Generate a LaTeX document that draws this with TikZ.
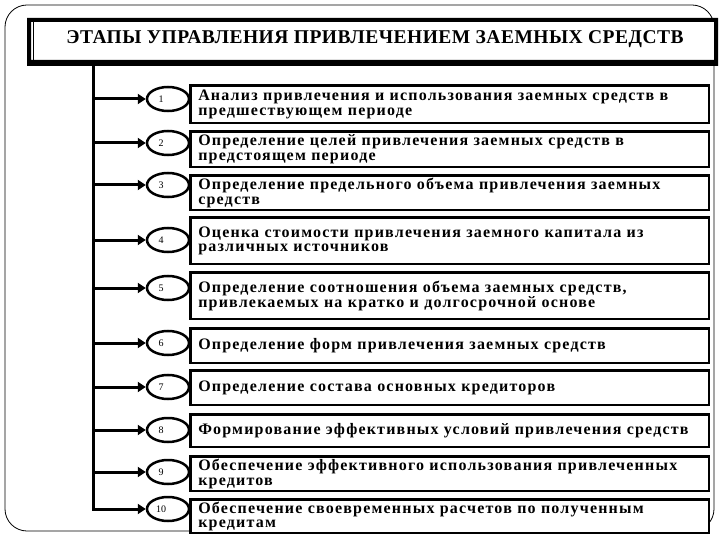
\documentclass[tikz,border=0pt]{standalone}
\usepackage{fontspec}
\setmainfont{Liberation Serif}
\usetikzlibrary{arrows.meta,shapes.geometric}
\begin{document}
\begin{tikzpicture}[x=1pt,y=-1pt,
  stagebox/.style={draw, line width=2.5pt, fill=white, rectangle, minimum width=518.5pt,
    text width=503pt, align=left, inner xsep=7.75pt, inner ysep=0pt, anchor=north west,
    font=\bfseries\fontsize{16}{14.5}\selectfont\addfontfeatures{LetterSpace=7.5}},
  numell/.style={draw, ellipse, line width=2.5pt, minimum width=42pt, minimum height=24pt,
    inner sep=0pt, fill=white},
  numlbl/.style={xshift=-7pt, font=\fontsize{10}{12}\selectfont},
  branch/.style={line width=3pt, -{Triangle[length=8pt,width=10pt]}},
  trunk/.style={line width=3pt},
  frameline/.style={line width=0.8pt}
]
\useasboundingbox (0,0) rectangle (720,540);
% outer frame
\draw[frameline, rounded corners=22pt] (5,5) rectangle (714,531);
% title box
\fill[white] (27,18) rectangle (718,66);
\fill[even odd rule] (27,18) rectangle (718,66) (31,22) rectangle (714,60);
\draw[line width=0.8pt] (33,22) -- (33,60);
\node[font=\bfseries\fontsize{19.5}{22}\selectfont\addfontfeatures{LetterSpace=2.5}] (title) at (375,39) {ЭТАПЫ УПРАВЛЕНИЯ ПРИВЛЕЧЕНИЕМ ЗАЕМНЫХ СРЕДСТВ};
% trunk
\coordinate (ttop) at (93,64);
\coordinate (tbot) at (93,510.5);
\draw[trunk] (ttop) -- (tbot);
% ellipses
\foreach \i/\y in {1/99,2/143,3/185,4/240,5/288,6/343,7/387,8/430,9/472,10/509}{
  \coordinate (t\i) at (93,\y);
  \node[numell, label={[numlbl]center:\i}] (e\i) at (168,\y) {};
  \draw[branch] (t\i) -- (e\i.west);
}
% boxes
\node[stagebox, minimum height=37.5pt] (b1) at (189.25,84.25) {Анализ привлечения и использования заемных средств в\\предшествующем периоде};
\node[stagebox, minimum height=35.5pt] (b2) at (189.25,130.25) {Определение целей привлечения заемных средств в\\предстоящем периоде};
\node[stagebox, minimum height=34.5pt] (b3) at (189.25,174.25) {Определение предельного объема привлечения заемных\\средств};
\node[stagebox, minimum height=46.5pt] (b4) at (189.25,216.25) {Оценка стоимости привлечения заемного капитала из\\различных источников};
\node[stagebox, minimum height=46.5pt] (b5) at (189.25,271.25) {Определение соотношения объема заемных средств,\\привлекаемых на кратко и долгосрочной основе};
\node[stagebox, minimum height=34.5pt] (b6) at (189.25,327.25) {Определение форм привлечения заемных средств};
\node[stagebox, minimum height=34.5pt] (b7) at (189.25,369.25) {Определение состава основных кредиторов};
\node[stagebox, minimum height=32.5pt] (b8) at (189.25,413.25) {Формирование эффективных условий привлечения средств};
\node[stagebox, minimum height=34.5pt] (b9) at (189.25,455.25) {Обеспечение эффективного использования привлеченных\\кредитов};
\node[stagebox, minimum height=33.5pt] (b10) at (189.25,498.25) {Обеспечение своевременных расчетов по полученным\\кредитам};
\end{tikzpicture}
\end{document}
